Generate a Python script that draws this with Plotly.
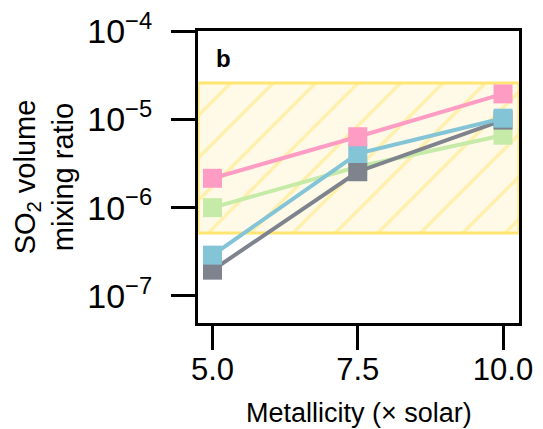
import plotly.graph_objects as go

# Metallicity grid (x solar) and SO2 volume mixing ratios for each model
metallicity = [5.0, 7.5, 10.0]
so2_green = [1.0e-6, 2.9e-6, 6.6e-6]
so2_gray = [1.96e-7, 2.55e-6, 9.8e-6]
so2_blue = [2.9e-7, 4.1e-6, 1.03e-5]
so2_pink = [2.15e-6, 6.35e-6, 1.94e-5]

# Observed range (hatched band)
band_low = 5.15e-7
band_high = 2.58e-5

# Axis ticks
y_tickvals = [1e-7, 1e-6, 1e-5, 1e-4]
y_exponents = ["−7", "−6", "−5", "−4"]
x_ticktext = ["5.0", "7.5", "10.0"]

x_range = [4.75, 10.275]
y_range_log = [-7.306, -4.0]

series = [
    ("green", so2_green, "#C6EBA9"),
    ("gray", so2_gray, "#7E838D"),
    ("blue", so2_blue, "#84C4D7"),
    ("pink", so2_pink, "#FF9CC3"),
]

y_ticktext = [f"10<sup>{e}</sup>" for e in y_exponents]

fig = go.Figure()

fig.add_trace(go.Scatter(
    x=[x_range[0], x_range[1], x_range[1], x_range[0], x_range[0]],
    y=[band_high, band_high, band_low, band_low, band_high],
    mode="lines",
    fill="toself",
    fillcolor="#FFFAE8",
    fillpattern=dict(shape="/", fgcolor="#FFE672", bgcolor="#FFFAE8",
                     size=30, solidity=0.12),
    line=dict(color="#FFE672", width=3),
    hoverinfo="skip",
    showlegend=False,
))

for name, vals, color in series:
    fig.add_trace(go.Scatter(
        x=metallicity, y=vals, mode="lines+markers", name=name,
        line=dict(color=color, width=4),
        marker=dict(symbol="square", size=19, color=color),
        showlegend=False,
    ))

font_family = "Liberation Sans, Arial, sans-serif"

# Panel label
fig.add_annotation(
    x=0.078, y=0.907, xref="paper", yref="paper",
    text="<b>b</b>", showarrow=False,
    font=dict(family=font_family, size=24, color="black"),
    xanchor="center", yanchor="middle",
)

# x-axis title, placed low in the bottom margin
fig.add_annotation(
    x=0.5, y=-0.307, xref="paper", yref="paper",
    text="Metallicity (× solar)", showarrow=False,
    font=dict(family=font_family, size=27, color="black"),
    xanchor="center", yanchor="middle",
)

fig.update_xaxes(
    range=x_range,
    tickvals=metallicity,
    ticktext=x_ticktext,
    ticks="outside", ticklen=24, tickwidth=3, tickcolor="black",
    showline=True, linecolor="black", linewidth=3, mirror=True,
    showgrid=False, zeroline=False,
    tickfont=dict(family=font_family, size=31, color="black"),
    ticklabelstandoff=-7,
)

fig.update_yaxes(
    type="log",
    range=y_range_log,
    tickvals=y_tickvals,
    ticktext=y_ticktext,
    ticks="outside", ticklen=24, tickwidth=3, tickcolor="black",
    showline=True, linecolor="black", linewidth=3, mirror=True,
    showgrid=False, zeroline=False,
    tickfont=dict(family=font_family, size=34, color="black"),
    ticklabelstandoff=12,
    title=dict(text="SO<sub>2</sub> volume<br>mixing ratio",
               font=dict(family=font_family, size=29, color="black"),
               standoff=6),
)

fig.update_layout(
    width=543, height=429,
    margin=dict(l=198, r=24, t=31, b=106, autoexpand=False),
    paper_bgcolor="white", plot_bgcolor="white",
)

fig.write_html("out.html")
